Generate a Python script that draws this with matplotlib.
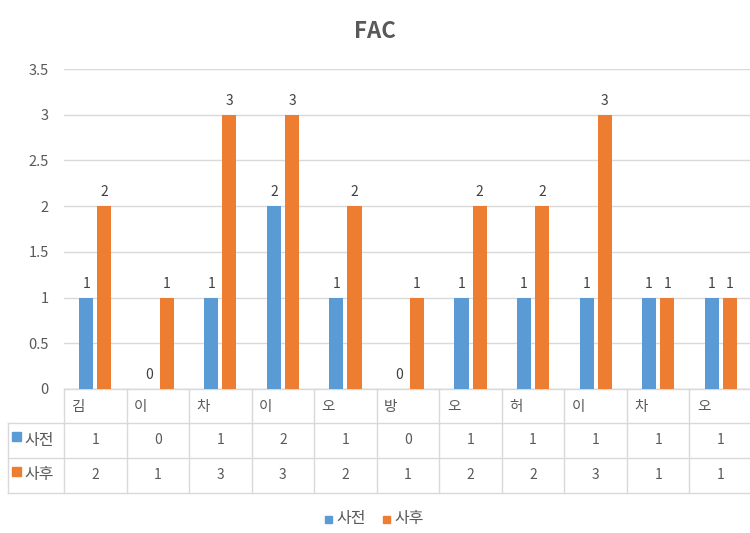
import matplotlib
matplotlib.use("Agg")
import matplotlib.pyplot as plt
from matplotlib.lines import Line2D
from matplotlib.patches import Rectangle
from matplotlib.transforms import blended_transform_factory
import numpy as np

plt.rcParams['font.family'] = ['Noto Sans CJK KR', 'DejaVu Sans']

categories = ['김', '이', '차', '이', '오', '방', '오', '허', '이', '차', '오']
series_names = ['사전', '사후']
before = [1, 0, 1, 2, 1, 0, 1, 1, 1, 1, 1]
after = [2, 1, 3, 3, 2, 1, 2, 2, 3, 1, 1]
colors = ['#5B9BD5', '#ED7D31']
y_ticks = [0, 0.5, 1, 1.5, 2, 2.5, 3, 3.5]

W, H = 750, 533
text_color = '#595959'
grid_color = '#D9D9D9'

fig = plt.figure(figsize=(W / 100, H / 100), dpi=100)
ax = fig.add_axes([64 / W, 1 - 389 / H, (752 - 64) / W, (389 - 69) / H])

x = np.arange(len(categories))
bw = 0.225
off = 0.145
for vals, dx, c in [(before, -off, colors[0]), (after, off, colors[1])]:
    bars = ax.bar(x + dx, vals, width=bw, color=c, zorder=3)
    for b, v in zip(bars, vals):
        ax.annotate(str(v), (b.get_x() + b.get_width() / 2, v), xytext=(0, 5),
                    textcoords='offset points', ha='center', va='bottom',
                    fontsize=10, color='#404040')

ax.set_xlim(-0.5, len(categories) - 0.5)
ax.set_ylim(0, 3.5)
ax.set_yticks(y_ticks)
ax.set_yticklabels([f'{t:g}' for t in y_ticks])
ax.tick_params(axis='y', length=0, labelsize=10.5, labelcolor=text_color, pad=11)
ax.set_xticks([])
ax.grid(axis='y', color=grid_color, linewidth=1, zorder=0)
for s in ax.spines.values():
    s.set_visible(False)
ax.axhline(0, color=grid_color, linewidth=1, zorder=2)

fy = lambda py: 1 - py / H
fig.text(375 / W, fy(31), 'FAC', ha='center', va='center', fontsize=16,
         fontweight='bold', color=text_color)

# data table under the plot
tr = blended_transform_factory(ax.transData, fig.transFigure)
row_lines = [389, 423, 458, 493]
left_px = 8
x_left_data = ax.transData.inverted().transform(fig.transFigure.transform((left_px / W, 0)))[0]

for i, py in enumerate(row_lines):
    x0 = -0.5 if i == 0 else x_left_data
    ax.add_line(Line2D([x0, len(categories) - 0.5], [fy(py), fy(py)], transform=tr,
                       color=grid_color, linewidth=1, clip_on=False))
for k in range(len(categories) + 1):
    xb = k - 0.5
    ax.add_line(Line2D([xb, xb], [fy(389), fy(493)], transform=tr,
                       color=grid_color, linewidth=1, clip_on=False))
ax.add_line(Line2D([x_left_data, x_left_data], [fy(423), fy(493)], transform=tr,
                   color=grid_color, linewidth=1, clip_on=False))

for i, name in enumerate(categories):
    ax.text(i - 0.5 + 0.12, fy(407), name, transform=tr, ha='left', va='center',
            fontsize=10.5, color=text_color)

for row, (vals, name, c) in enumerate(zip([before, after], series_names, colors)):
    yc = fy(440 + row * 35)
    for i, v in enumerate(vals):
        ax.text(i, yc, str(v), transform=tr, ha='center', va='center',
                fontsize=10, color=text_color)
    fig.add_artist(Rectangle((12 / W, yc - 1 / H), 9 / W, 9 / H, color=c,
                             transform=fig.transFigure))
    fig.text(24 / W, yc, name, ha='left', va='center', fontsize=11.5, color=text_color)

# legend
for name, c, lx in zip(series_names, colors, [325, 383]):
    fig.add_artist(Rectangle((lx / W, fy(523)), 7 / W, 7 / H, color=c,
                             transform=fig.transFigure))
    fig.text((lx + 11) / W, fy(519), name, ha='left', va='center', fontsize=11.5,
             color=text_color)

fig.savefig('out.png', dpi=100)
